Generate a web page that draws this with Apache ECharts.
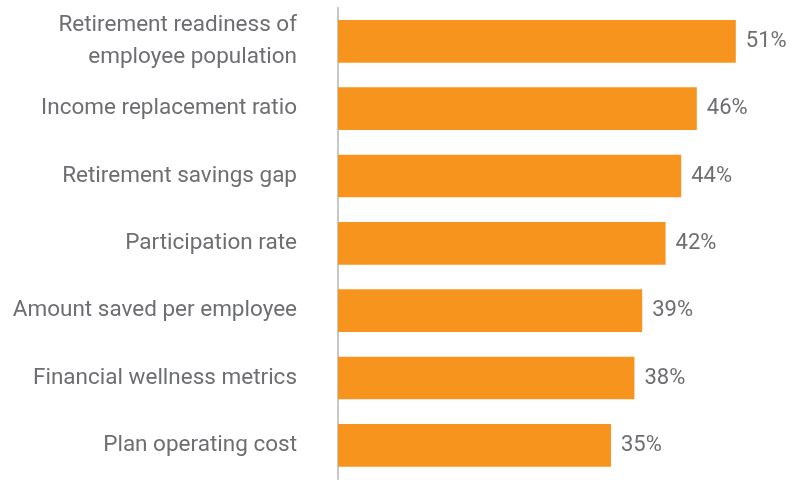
<!DOCTYPE html>
<html>
<head>
<meta charset="utf-8">
<script src="https://cdn.jsdelivr.net/npm/echarts@6/dist/echarts.min.js"></script>
<style>
  html, body { margin: 0; padding: 0; background: #ffffff; }
  #chart { width: 799px; height: 482px; }
</style>
</head>
<body>
<div id="chart"></div>
<script>
// Metrics used to track retirement plan success (share of respondents)
const categories = [
  'Retirement readiness of\nemployee population',
  'Income replacement ratio',
  'Retirement savings gap',
  'Participation rate',
  'Amount saved per employee',
  'Financial wellness metrics',
  'Plan operating cost'
];
const values = [51, 46, 44, 42, 39, 38, 35];

const textColor = '#6d6e71';
const barColor = '#f7941d';
const fontFamily = 'Roboto, "Open Sans", sans-serif';

const chart = echarts.init(document.getElementById('chart'), null, { renderer: 'canvas' });
chart.setOption({
  animation: false,
  grid: { left: 338, right: 32, top: 7.7, bottom: 3, containLabel: false },
  xAxis: {
    type: 'value',
    min: 0,
    max: 55,
    show: false
  },
  yAxis: {
    type: 'category',
    data: categories,
    inverse: true,
    axisLine: { show: true, lineStyle: { color: '#c8c8c8', width: 2 } },
    axisTick: { show: false },
    axisLabel: {
      margin: 41,
      color: textColor,
      fontSize: 22.5,
      fontFamily: fontFamily,
      lineHeight: 32,
      align: 'right'
    }
  },
  series: [{
    type: 'bar',
    data: values,
    barCategoryGap: '36.6%',
    itemStyle: { color: barColor },
    label: {
      show: true,
      position: 'right',
      distance: 10,
      formatter: '{c}%',
      color: textColor,
      fontSize: 22,
      fontFamily: fontFamily
    }
  }]
});
</script>
</body>
</html>
